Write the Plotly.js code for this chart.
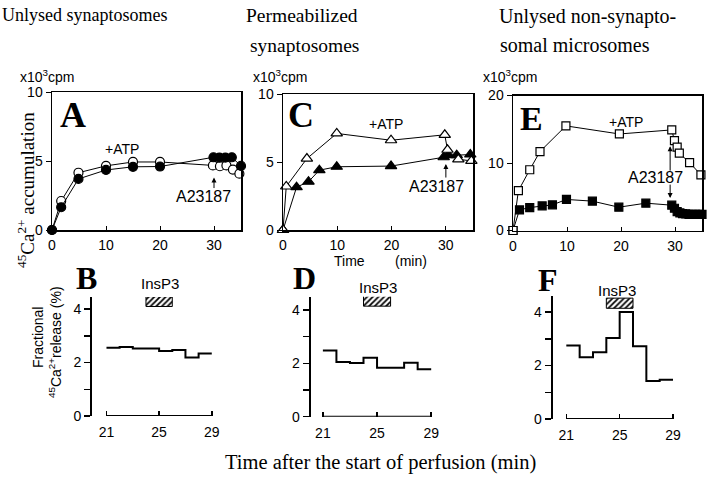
<!DOCTYPE html>
<html>
<head>
<meta charset="utf-8">
<script src="https://cdn.plot.ly/plotly-3.0.1.min.js"></script>
<style>html,body{margin:0;padding:0;background:#fff;}#chart{width:720px;height:478px;}</style>
</head>
<body>
<div id="chart"></div>
<script>
// ---------- DATA ----------
// Panel A: unlysed synaptosomes, 45Ca2+ accumulation (x10^3 cpm)
var timeA_atp = [0, 1.7, 4.9, 10, 15, 20, 29.8, 31.1, 32.3, 33.5, 34.7];
var accA_atp  = [0, 2.1, 4.15, 4.65, 4.93, 4.93, 4.68, 4.62, 4.68, 4.38, 4.08];
var timeA_ctl = [0, 1.7, 4.9, 10, 15, 20, 29.9, 31.0, 32.1, 33.3, 35];
var accA_ctl  = [0, 1.65, 3.7, 4.35, 4.58, 4.6, 5.27, 5.25, 5.25, 5.27, 4.64];
// Panel C: permeabilized synaptosomes
var timeC_atp = [0, 0.6, 4.4, 9.9, 19.9, 29.8, 30.3, 32.3, 34.7];
var accC_atp  = [0, 3.2, 5.25, 7.1, 6.6, 7.0, 5.9, 5.2, 5.08];
var timeC_ctl = [0, 2.5, 4.7, 6.7, 9.9, 19.9, 29.6, 30.4, 32.0, 34.5];
var accC_ctl  = [0, 3.15, 3.55, 4.4, 4.65, 4.7, 5.35, 5.5, 5.5, 5.55];
// Panel E: unlysed non-synaptosomal microsomes
var timeE_atp = [0, 1.0, 3.1, 5.0, 9.8, 19.7, 29.4, 29.9, 30.4, 30.8, 32.7, 34.8];
var accE_atp  = [0, 5.9, 9.0, 11.7, 15.5, 14.3, 14.9, 13.3, 12.35, 11.45, 10.05, 8.25];
var timeE_ctl = [0, 1.2, 3.1, 5.4, 7.3, 9.9, 14.7, 19.6, 24.6, 29.4, 29.9, 30.4, 30.9, 31.4, 32.0, 32.6, 33.2, 33.8, 34.4, 35];
var accE_ctl  = [0, 3.05, 3.4, 3.65, 3.8, 4.6, 4.35, 3.45, 4.05, 3.75, 3.3, 2.8, 2.6, 2.5, 2.45, 2.4, 2.4, 2.4, 2.4, 2.4];
// Panels B, D, F: fractional 45Ca2+ release (%) per minute (step edges)
var minutes  = [21, 22, 23, 24, 25, 26, 27, 28, 29];
var releaseB = [2.55, 2.58, 2.52, 2.52, 2.43, 2.47, 2.19, 2.34, 2.34];
var releaseD = [2.48, 2.05, 2.01, 2.21, 1.84, 1.84, 2.02, 1.78, 1.78];
var releaseF = [2.75, 2.31, 2.5, 3.03, 4.0, 2.72, 1.42, 1.47, 1.47];
// InsP3 application window (min)
var insp3Start = 24, insp3Duration = 2;
// tick labels
var topTicksX = [0, 10, 20, 30];
var bottomTicksX = [21, 25, 29];
var bottomTicksY = [0, 1, 2, 3, 4];
var bottomTickTextY = ["0", "", "2", "", "4"];

// ---------- LAYOUT HELPERS ----------
var W = 720, H = 478;
function px(x){ return x / W; }
function py(y){ return 1 - y / H; }
var SANS = "Liberation Sans, Arial, sans-serif";
var SERIF = "Liberation Serif, Times New Roman, serif";
var tickFont = {family: SANS, size: 14, color: "#000"};

function topX(dom, anchor){
  return {domain: dom, range: [0, 35], anchor: anchor, showgrid: false, zeroline: false,
    showline: true, mirror: true, linecolor: "#000", linewidth: 1.5,
    ticks: "inside", ticklen: 4, tickcolor: "#000", tickvals: topTicksX,
    tickfont: tickFont, ticklabelstandoff: 2};
}
function topY(dom, anchor, maxv, tv){
  return {domain: dom, range: [0, maxv], anchor: anchor, showgrid: false, zeroline: false,
    showline: true, mirror: true, linecolor: "#000", linewidth: 1.5,
    ticks: "outside", ticklen: 5, tickcolor: "#000", tickvals: tv,
    tickfont: tickFont};
}
function botX(dom, anchor, r){
  return {domain: dom, range: r, anchor: anchor, showgrid: false, zeroline: false,
    showline: false, ticks: "inside", ticklen: 5, tickwidth: 1.5, tickcolor: "#000",
    tickvals: bottomTicksX, tickfont: tickFont, ticklabelstandoff: 6};
}
function botY(dom, anchor, maxv){
  return {domain: dom, range: [0, maxv], anchor: anchor, showgrid: false, zeroline: false,
    showline: true, linecolor: "#000", linewidth: 2,
    ticks: "outside", ticklen: 6, tickwidth: 1.5, tickcolor: "#000",
    tickvals: bottomTicksY, ticktext: bottomTickTextY, tickfont: tickFont};
}

function series(x, y, xa, ya, sym, fill, size){
  return {x: x, y: y, xaxis: xa, yaxis: ya, type: "scatter", mode: "lines+markers",
    cliponaxis: false, showlegend: false,
    line: {color: "#000", width: 1},
    marker: {symbol: sym, size: size, color: fill, line: {color: "#000", width: 1.2}}};
}
function steps(y, xa, ya){
  return {x: minutes, y: y, xaxis: xa, yaxis: ya, type: "scatter", mode: "lines",
    line: {shape: "hv", color: "#000", width: 2}, cliponaxis: false, showlegend: false};
}
function insp3(xa, ya, yc, h){
  return {type: "bar", orientation: "h", x: [insp3Duration], base: [insp3Start], y: [yc],
    width: h, xaxis: xa, yaxis: ya, cliponaxis: false, showlegend: false,
    marker: {color: "#fff", line: {color: "#000", width: 1},
      pattern: {shape: "/", fgcolor: "#000", bgcolor: "#fff", size: 4, solidity: 0.45}}};
}

var data = [
  series(timeA_atp, accA_atp, "x", "y", "circle", "#fff", 9),
  series(timeA_ctl, accA_ctl, "x", "y", "circle", "#000", 9),
  series(timeC_ctl, accC_ctl, "x2", "y2", "triangle-up", "#000", 10),
  series(timeC_atp, accC_atp, "x2", "y2", "triangle-up", "#fff", 10),
  series(timeE_ctl, accE_ctl, "x3", "y3", "square", "#000", 8),
  series(timeE_atp, accE_atp, "x3", "y3", "square", "#fff", 8),
  steps(releaseB, "x4", "y4"),
  steps(releaseD, "x5", "y5"),
  steps(releaseF, "x6", "y6"),
  insp3("x4", "y4", 4.28, 0.37),
  insp3("x5", "y5", 4.35, 0.41),
  insp3("x6", "y6", 4.33, 0.38)
];

function txt(x, y, t, size, fam, extra){
  var a = {xref: "paper", yref: "paper", x: px(x), y: py(y), text: t, showarrow: false,
    xanchor: "center", yanchor: "middle", font: {family: fam || SANS, size: size || 14, color: "#000"}};
  if (extra) for (var k in extra) a[k] = extra[k];
  return a;
}
function dtxt(xa, ya, x, y, t, size){
  return {xref: xa, yref: ya, x: x, y: y, text: t, showarrow: false,
    font: {family: SANS, size: size || 14, color: "#000"}};
}
function arrow(xa, ya, x, y, ay){
  return {xref: xa, yref: ya, x: x, y: y, ax: 0, ay: ay, text: "", showarrow: true,
    arrowhead: 2, arrowsize: 1, arrowwidth: 1, arrowcolor: "#000"};
}
var annotations = [
  // column titles
  txt(85, 15, "Unlysed synaptosomes", 18, SERIF),
  txt(302, 15, "Permeabilized", 19.5, SERIF),
  txt(304, 45, "synaptosomes", 19.5, SERIF),
  txt(587, 17, "Unlysed non-synapto-", 20, SERIF),
  txt(575, 45, "somal microsomes", 20, SERIF),
  // unit labels
  txt(47, 76, "x10<sup>3</sup>cpm", 14),
  txt(280, 76, "x10<sup>3</sup>cpm", 14),
  txt(510, 76, "x10<sup>3</sup>cpm", 14),
  // y title top
  txt(26, 190, "<sup>45</sup>Ca<sup>2+</sup> accumulation", 19, SERIF, {textangle: -90}),
  // panel letters
  txt(73, 115, "<b>A</b>", 36, SERIF),
  txt(301, 115, "<b>C</b>", 36, SERIF),
  txt(531, 118, "<b>E</b>", 34, SERIF),
  txt(86, 278, "<b>B</b>", 32, SERIF),
  txt(304, 278, "<b>D</b>", 32, SERIF),
  txt(548, 280, "<b>F</b>", 32, SERIF),
  // +ATP labels
  dtxt("x", "y", 12.9, 5.9, "+ATP"),
  dtxt("x2", "y2", 19, 7.8, "+ATP"),
  dtxt("x3", "y3", 21, 16.1, "+ATP"),
  // A23187 labels and arrows
  dtxt("x", "y", 28.1, 2.4, "A23187", 16),
  arrow("x", "y", 30, 3.8, 12),
  dtxt("x2", "y2", 28.3, 3.2, "A23187", 16),
  arrow("x2", "y2", 30, 4.85, 15),
  dtxt("x3", "y3", 26.3, 7.9, "A23187", 16),
  arrow("x3", "y3", 29.1, 12.5, 26),
  arrow("x3", "y3", 29.1, 4.8, -15),
  // Time (min)
  txt(349, 261, "Time", 14),
  txt(411, 261, "(min)", 14),
  // InsP3 labels
  txt(160, 283, "InsP3", 15),
  txt(378, 287, "InsP3", 15),
  txt(617, 290, "InsP3", 15),
  // bottom y title
  txt(38, 338, "Fractional", 14, SANS, {textangle: -90}),
  txt(55, 342, "<sup>45</sup>Ca<sup>2+</sup>release (%)", 14, SANS, {textangle: -90}),
  // bottom x title
  txt(380, 462, "Time after the start of perfusion (min)", 20.5, SERIF)
];

var shapes = [
  {type: "line", xref: "x4", yref: "y4", x0: 21, x1: 29, y0: 0, y1: 0, line: {color: "#000", width: 2}},
  {type: "line", xref: "x5", yref: "y5", x0: 21, x1: 29, y0: 0, y1: 0, line: {color: "#000", width: 2}},
  {type: "line", xref: "x6", yref: "y6", x0: 21, x1: 29, y0: 0, y1: 0, line: {color: "#000", width: 2}}
];

var layout = {
  width: W, height: H, margin: {l: 0, r: 0, t: 0, b: 0},
  paper_bgcolor: "#fff", plot_bgcolor: "rgba(0,0,0,0)", showlegend: false,
  xaxis: topX([px(52), px(241)], "y"),
  yaxis: topY([py(230), py(92)], "x", 10, [0, 5, 10]),
  xaxis2: topX([px(283), px(473)], "y2"),
  yaxis2: topY([py(230), py(94)], "x2", 10, [0, 5, 10]),
  xaxis3: topX([px(513), px(702)], "y3"),
  yaxis3: topY([py(230.5), py(95.5)], "x3", 20, [0, 10, 20]),
  xaxis4: botX([px(92), px(214.4)], "y4", [19.9, 29.2]),
  yaxis4: botY([py(416), py(297)], "x4", 4.45),
  xaxis5: botX([px(310.7), px(433.9)], "y5", [20.1, 29.2]),
  yaxis5: botY([py(416.7), py(296.7)], "x5", 4.5),
  xaxis6: botX([px(552.7), px(675.7)], "y6", [19.98, 29.2]),
  yaxis6: botY([py(419), py(296)], "x6", 4.6),
  annotations: annotations,
  shapes: shapes
};

Plotly.newPlot("chart", data, layout, {displayModeBar: false, staticPlot: true});
</script>
</body>
</html>
